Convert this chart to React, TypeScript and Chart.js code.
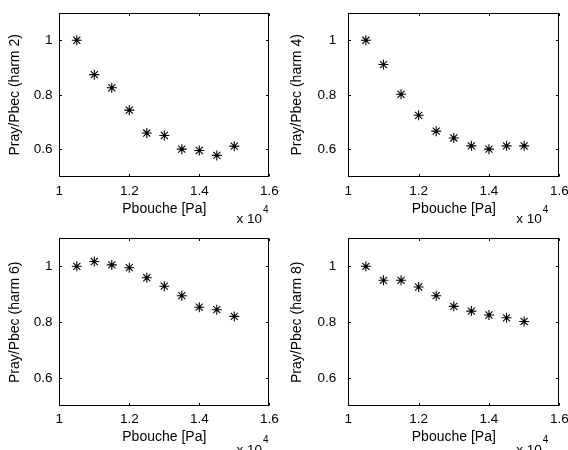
import React, { useEffect, useRef } from "react";
import { Chart, registerables } from "chart.js";
Chart.register(...registerables);

// ---- data ----
const pressurePa = [10500, 11000, 11500, 12000, 12500, 13000, 13500, 14000, 14500, 15000];
const harm2 = [1.0, 0.874, 0.826, 0.744, 0.66, 0.651, 0.601, 0.596, 0.578, 0.612];
const harm4 = [1.0, 0.911, 0.802, 0.725, 0.667, 0.642, 0.613, 0.601, 0.613, 0.613];
const harm6 = [1.0, 1.017, 1.005, 0.995, 0.959, 0.929, 0.895, 0.854, 0.845, 0.821];
const harm8 = [1.0, 0.95, 0.95, 0.926, 0.895, 0.857, 0.84, 0.826, 0.816, 0.803];
const xTickValues = [10000, 12000, 14000, 16000];
const yTickValues = [0.6, 0.8, 1.0];
const xTitle = "Pbouche [Pa]";
const yTitles = ["Pray/Pbec (harm 2)", "Pray/Pbec (harm 4)", "Pray/Pbec (harm 6)", "Pray/Pbec (harm 8)"];
const seriesList = [harm2, harm4, harm6, harm8];

const FONT = "'Liberation Sans', Arial, Helvetica, sans-serif";
const W = 284;
const H = 225;

const colGeom = [
  { axL: 59.3, axR: 269.3, yTickPad: 6.8, yTitleCenter: 15.5, expX: 236.5 },
  { axL: 64.3, axR: 275.3, yTickPad: 12, yTitleCenter: 13, expX: 232.3 },
];
const rowGeom = [
  { axT: 13, axB: 176.7, xTickPad: 6.2, xTitlePadB: 7.1, expBase: 223, supBase: 213 },
  { axT: 13.3, axB: 181.3, xTickPad: 5.3, xTitlePadB: 4.1, expBase: 228.5, supBase: 217.7 },
];

const boxPlugin = {
  id: "matlabBox",
  afterDraw(chart: any, _args: any, opts: any) {
    const { ctx, chartArea } = chart;
    const xs = chart.scales.x;
    const ys = chart.scales.y;
    const l = Math.round(chartArea.left) + 0.5;
    const r = Math.round(chartArea.right) - 0.5;
    const t = Math.round(chartArea.top) + 0.5;
    const b = Math.round(chartArea.bottom) - 0.5;
    ctx.save();
    ctx.strokeStyle = "#000";
    ctx.lineWidth = 1;
    ctx.strokeRect(l, t, r - l, b - t);
    const tl = 2.5;
    ctx.beginPath();
    for (const v of xTickValues) {
      const px = Math.round(xs.getPixelForValue(v)) + 0.5;
      ctx.moveTo(px, b);
      ctx.lineTo(px, b - tl);
      ctx.moveTo(px, t);
      ctx.lineTo(px, t + tl);
    }
    for (const v of yTickValues) {
      const py = Math.round(ys.getPixelForValue(v)) + 0.5;
      ctx.moveTo(l, py);
      ctx.lineTo(l + tl, py);
      ctx.moveTo(r, py);
      ctx.lineTo(r - tl, py);
    }
    ctx.stroke();
    // exponent label
    ctx.fillStyle = "#000";
    ctx.textAlign = "left";
    ctx.textBaseline = "alphabetic";
    ctx.font = `13.5px ${FONT}`;
    const base = "x 10";
    ctx.fillText(base, opts.expX, opts.expBase);
    const w = ctx.measureText(base).width;
    ctx.font = `10px ${FONT}`;
    ctx.fillText("4", opts.expX + w + 1, opts.supBase);
    ctx.restore();
  },
};

function Panel({ index }: { index: number }) {
  const ref = useRef<HTMLCanvasElement>(null);
  const col = index % 2;
  const row = Math.floor(index / 2);
  useEffect(() => {
    const cg = colGeom[col];
    const rg = rowGeom[row];
    const values = seriesList[index];
    const points = pressurePa.map((x, i) => ({ x, y: values[i] }));
    const chart = new Chart(ref.current as HTMLCanvasElement, {
      type: "scatter",
      data: {
        datasets: [
          {
            data: points,
            pointStyle: "star",
            pointRadius: 5,
            pointBorderWidth: 1.1,
            borderColor: "#000",
            backgroundColor: "#000",
            showLine: false,
          },
          {
            data: points,
            pointStyle: "circle",
            pointRadius: 1.5,
            pointBorderWidth: 0,
            borderColor: "#000",
            backgroundColor: "#000",
            showLine: false,
          },
        ],
      },
      options: {
        responsive: false,
        animation: false,
        events: [],
        layout: {
          padding: { top: rg.axT, right: W - cg.axR, left: 0, bottom: 0 },
        },
        plugins: {
          legend: { display: false },
          tooltip: { enabled: false },
          matlabBox: { expX: cg.expX, expBase: rg.expBase, supBase: rg.supBase },
        } as any,
        scales: {
          x: {
            type: "linear",
            min: 10000,
            max: 16000,
            afterBuildTicks: (s: any) => {
              s.ticks = xTickValues.map((v) => ({ value: v }));
            },
            afterFit: (s: any) => {
              s.height = H - rg.axB;
              s.paddingLeft = 0;
              s.paddingRight = 0;
              s.paddingTop = 0;
              s.paddingBottom = 0;
            },
            grid: { display: false, drawTicks: false },
            border: { display: false },
            ticks: {
              color: "#000",
              font: { family: FONT, size: 13.5 },
              padding: rg.xTickPad,
              maxRotation: 0,
              autoSkip: false,
              callback: (v: any) => String(Number(v) / 10000),
            },
            title: {
              display: true,
              text: xTitle,
              color: "#000",
              font: { family: FONT, size: 14 },
              padding: { top: 0, bottom: rg.xTitlePadB },
            },
          },
          y: {
            type: "linear",
            min: 0.5,
            max: 1.1,
            afterBuildTicks: (s: any) => {
              s.ticks = yTickValues.map((v) => ({ value: v }));
            },
            afterFit: (s: any) => {
              s.width = cg.axL;
              s.paddingLeft = 0;
              s.paddingRight = 0;
              s.paddingTop = 0;
              s.paddingBottom = 0;
            },
            grid: { display: false, drawTicks: false },
            border: { display: false },
            ticks: {
              color: "#000",
              font: { family: FONT, size: 13.5 },
              padding: cg.yTickPad,
              autoSkip: false,
              callback: (v: any) => String(Math.round(Number(v) * 10) / 10),
            },
            title: {
              display: true,
              text: yTitles[index],
              color: "#000",
              font: { family: FONT, size: 14 },
              padding: { top: cg.yTitleCenter - 8.4, bottom: 0 },
            },
          },
        },
      },
      plugins: [boxPlugin],
    } as any);
    return () => chart.destroy();
  }, []);
  return (
    <canvas
      ref={ref}
      width={W}
      height={H}
      style={{ position: "absolute", left: col * W, top: row * H, width: W, height: H }}
    />
  );
}

export default function App() {
  return (
    <div
      style={{
        position: "absolute",
        left: 0,
        top: 0,
        width: 568,
        height: 450,
        overflow: "hidden",
        background: "#fff",
      }}
    >
      {[0, 1, 2, 3].map((i) => (
        <Panel key={i} index={i} />
      ))}
    </div>
  );
}
